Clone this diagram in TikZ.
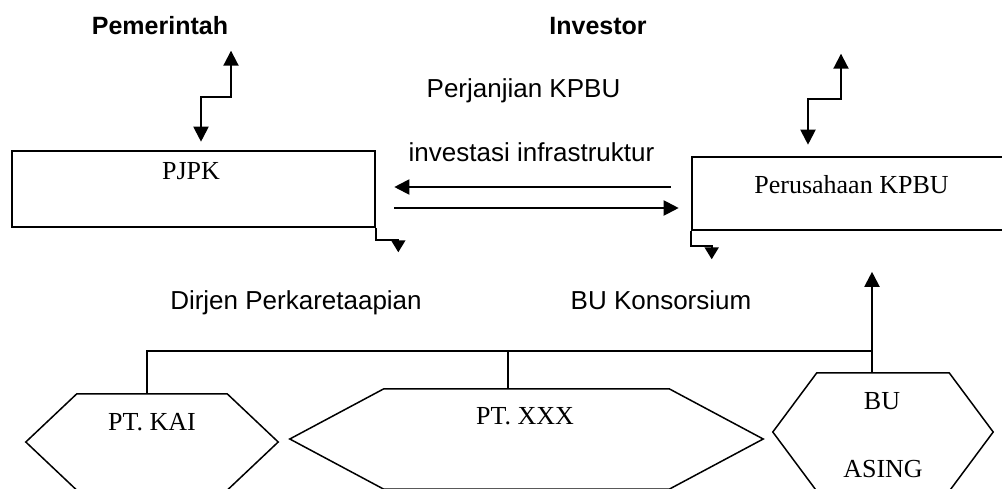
\documentclass[tikz,border=0pt]{standalone}
\usepackage{fontspec}
\setmainfont{Liberation Serif}
\setsansfont{Liberation Sans}
\usepackage{tikz}
\usetikzlibrary{arrows.meta, positioning, calc}

% hexagon drawn on the corners of a (named) rectangle node
\newcommand{\drawhex}[2]{%
  \draw[hexline] (#1.west) -- ([xshift=#2]#1.north west) -- ([xshift=-#2]#1.north east)
    -- (#1.east) -- ([xshift=-#2]#1.south east) -- ([xshift=#2]#1.south west) -- cycle;}

\begin{document}
\begin{tikzpicture}[
    x=1pt, y=-1pt,
    sanstext/.style={font=\sffamily\fontsize{26}{30}\selectfont, inner sep=0pt, anchor=base},
    headtext/.style={sanstext, font=\sffamily\bfseries\fontsize{25}{30}\selectfont},
    seriftext/.style={font=\rmfamily\fontsize{26}{30}\selectfont, inner sep=0pt, anchor=base},
    box/.style={draw, line width=2.6pt, inner sep=0pt},
    hexnode/.style={inner sep=0pt},
    hexline/.style={line width=1.5pt, line join=miter},
    busline/.style={line width=1.8pt},
    arrow/.style={-{Triangle[length=15pt, width=15pt]}, line width=2pt},
    dblarrow/.style={{Triangle[length=15pt, width=15pt]}-{Triangle[length=15pt, width=15pt]}, line width=2pt},
    cornerarrow/.style={-{Triangle[length=12pt, width=14pt]}, line width=2pt},
]
\clip (0,0) rectangle (1002,488);

% headings
\node[headtext] (pemerintah) at (160,34) {Pemerintah};
\node[headtext] (investor) at (598,34) {Investor};

% main boxes
\node[box, minimum width=363pt, minimum height=76pt] (pjpk) at (193.5,189) {};
\node[seriftext] (pjpklabel) at (191,179) {PJPK};
\node[box, minimum width=318pt, minimum height=73pt] (kpbu) at (851,193.5) {};
\node[seriftext] (kpbulabel) at (851.5,193) {Perusahaan KPBU};

% middle texts
\node[sanstext] (perjanjian) at (523.5,97) {Perjanjian KPBU};
\node[sanstext] (investasi) at (531.5,161) {investasi infrastruktur};
\node[sanstext] (dirjen) at (296,309) {Dirjen Perkaretaapian};
\node[sanstext] (konsorsium) at (661,309) {BU Konsorsium};

% zigzag arrows over the boxes
\draw[dblarrow] ([xshift=7.5pt, yshift=8pt]pjpk.north) -- ++(0,-45) -- ++(30,0) -- ++(0,-46);
\draw[dblarrow] ([xshift=-43pt, yshift=11pt]kpbu.north) -- ++(0,-46) -- ++(33,0) -- ++(0,-45);

% arrows between the boxes
\draw[arrow] ($(kpbu.west)+(-20,-6.5)$) -- ($(pjpk.east)+(18,-2)$);
\draw[arrow] ($(pjpk.east)+(18,19)$) -- ($(kpbu.west)+(-12,14.5)$);

% corner arrows
\draw[cornerarrow] (pjpk.south east) -- ++(0,12) -- ++(22,0) -- ++(0,12);
\draw[cornerarrow] (kpbu.south west) -- ++(0,15) -- ++(21,0) -- ++(0,13);

% hexagons
\node[hexnode, minimum width=252pt, minimum height=96pt] (kai) at (152,442) {};
\node[hexnode, minimum width=473pt, minimum height=100pt] (xxx) at (526.5,439) {};
\node[hexnode, minimum width=220pt, minimum height=118pt] (asing) at (883,432) {};
\drawhex{kai}{51pt}
\drawhex{xxx}{94pt}
\drawhex{asing}{44pt}
\node[seriftext] (kailabel) at (152,430) {PT. KAI};
\node[seriftext] (xxxlabel) at (525,424) {PT. XXX};
\node[seriftext] (bulabel) at (882,409) {BU};
\node[seriftext] (asinglabel) at (883,477) {ASING};

% bus lines
\draw[busline] ([xshift=-5pt]kai.north) -- ++(0,-43) -- ++(725,0);
\draw[busline] ([xshift=-18.5pt]xxx.north) -- ++(0,-38);
\draw[arrow] ([xshift=-11pt]asing.north) -- ++(0,-101);
\end{tikzpicture}
\end{document}
